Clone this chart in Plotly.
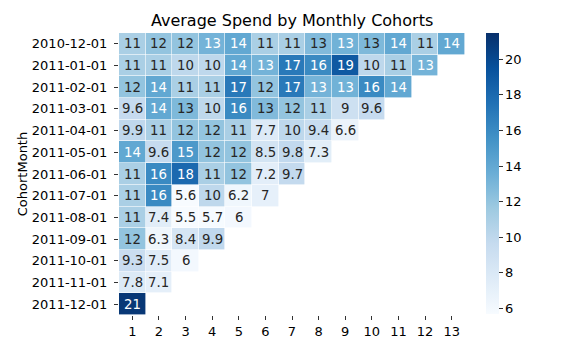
import numpy as np
import plotly.graph_objects as go

cohorts = ["2010-12-01", "2011-01-01", "2011-02-01", "2011-03-01", "2011-04-01",
           "2011-05-01", "2011-06-01", "2011-07-01", "2011-08-01", "2011-09-01",
           "2011-10-01", "2011-11-01", "2011-12-01"]
cohort_index = list(range(1, 14))

r_2010_12 = [11, 12, 12, 13.2, 14, 11, 11, 12.7, 13.3, 12.8, 14, 11, 14]
r_2011_01 = [11, 11, 10, 10, 14, 13.2, 17, 16, 19, 10, 11, 13.2]
r_2011_02 = [12, 14, 11, 11, 17, 12, 17, 13.2, 13.3, 16, 14]
r_2011_03 = [9.6, 14, 12.8, 10, 16, 12.7, 12, 11, 9, 9.6]
r_2011_04 = [9.9, 11, 12, 12, 11, 7.7, 10, 9.4, 6.6]
r_2011_05 = [14, 9.6, 15, 12, 12, 8.5, 9.8, 7.3]
r_2011_06 = [11, 16, 18, 11, 12, 7.2, 9.7]
r_2011_07 = [11, 16, 5.6, 10, 6.2, 7]
r_2011_08 = [11, 7.4, 5.5, 5.7, 6]
r_2011_09 = [12, 6.3, 8.4, 9.9]
r_2011_10 = [9.3, 7.5, 6]
r_2011_11 = [7.8, 7.1]
r_2011_12 = [21]

rows = [r_2010_12, r_2011_01, r_2011_02, r_2011_03, r_2011_04, r_2011_05,
        r_2011_06, r_2011_07, r_2011_08, r_2011_09, r_2011_10, r_2011_11, r_2011_12]

z = []
for r in rows:
    z.append(list(r) + [None] * (13 - len(r)))

blues = ['rgb(247,251,255)', 'rgb(222,235,247)', 'rgb(198,219,239)', 'rgb(158,202,225)',
         'rgb(107,174,214)', 'rgb(66,146,198)', 'rgb(33,113,181)', 'rgb(8,81,156)', 'rgb(8,48,107)']
cscale = [[i / 8, c] for i, c in enumerate(blues)]

fig = go.Figure(go.Heatmap(
    z=z, x=cohort_index, y=cohorts,
    colorscale=cscale, zmin=5.65, zmax=21.45,
    xgap=0.6, ygap=0.6,
    hoverongaps=False,
    colorbar=dict(
        thickness=13, len=281, lenmode="pixels",
        x=1.06, xanchor="left", y=0.5, yanchor="middle",
        xpad=0, ypad=0,
        outlinewidth=0, ticks="outside", ticklen=4, tickcolor="#333",
        tickvals=[6, 8, 10, 12, 14, 16, 18, 20],
        tickfont=dict(family="DejaVu Sans", size=13, color="black"),
    ),
))

for i, r in enumerate(rows):
    for j, v in enumerate(r):
        fig.add_annotation(
            x=cohort_index[j], y=cohorts[i], text=f"{v:.2g}", showarrow=False,
            font=dict(family="DejaVu Sans", size=13.3,
                      color="white" if v >= 13 else "#262626"),
        )

fig.update_layout(
    width=565, height=352,
    margin=dict(l=118.7, r=99.7, t=33.2, b=36.8),
    paper_bgcolor="white", plot_bgcolor="white",
    font=dict(family="DejaVu Sans", color="black"),
    title=dict(text="Average Spend by Monthly Cohorts", x=0.517, xanchor="center",
               y=0.943, yanchor="middle",
               font=dict(family="DejaVu Sans", size=16, color="black")),
)
fig.update_xaxes(tickvals=cohort_index, ticks="outside", ticklen=4, tickcolor="#333",
                 showgrid=False, zeroline=False, showline=False,
                 range=[0.5, 13.5], tickfont=dict(size=13))
fig.update_yaxes(type="category", autorange="reversed", ticks="outside", ticklen=4,
                 tickcolor="#333", ticklabelstandoff=4,
                 showgrid=False, zeroline=False, showline=False,
                 tickfont=dict(size=13),
                 title=dict(text="CohortMonth", font=dict(size=13), standoff=1))

fig.write_html("out.html")
